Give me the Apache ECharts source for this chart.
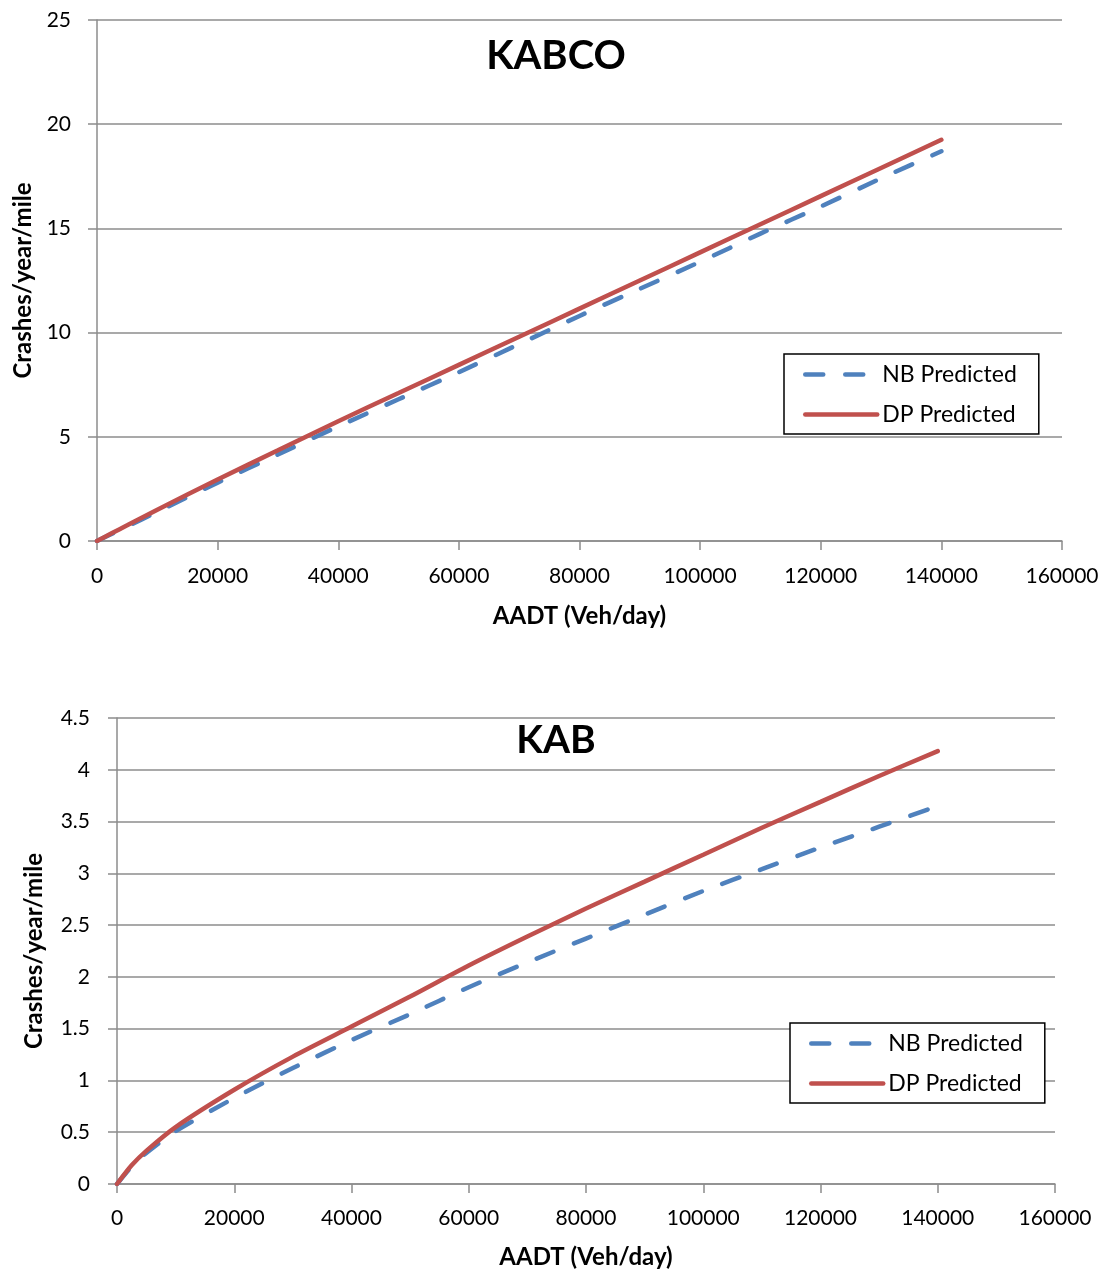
<!DOCTYPE html>
<html>
<head>
<meta charset="utf-8">
<title>Predicted crashes vs AADT</title>
<script src="https://cdn.jsdelivr.net/npm/echarts@6/dist/echarts.min.js"></script>
<style>
  html, body { margin: 0; padding: 0; background: #ffffff; }
  #chart { width: 1112px; height: 1272px; }
</style>
</head>
<body>
<div id="chart"></div>
<script>
// AADT sample points (veh/day) shared by both panels
const aadt = [0, 2500, 5000, 10000, 20000, 30000, 40000, 50000, 60000, 70000,
              80000, 90000, 100000, 110000, 120000, 130000, 140000];

// KABCO panel: crashes/year/mile
const kabcoNB = [0, 0.35, 0.7, 1.4, 2.8, 4.15, 5.5, 6.8, 8.1, 9.45,
                 10.8, 12.1, 13.4, 14.75, 16.05, 17.4, 18.7];
const kabcoDP = [0, 0.38, 0.75, 1.5, 2.95, 4.35, 5.75, 7.1, 8.45, 9.8,
                 11.15, 12.5, 13.85, 15.2, 16.55, 17.9, 19.25];

// KAB panel: crashes/year/mile
const kabNB = [0, 0.17, 0.3, 0.51, 0.83, 1.12, 1.39, 1.64, 1.9, 2.14,
               2.37, 2.6, 2.83, 3.04, 3.25, 3.45, 3.65];
const kabDP = [0, 0.18, 0.32, 0.55, 0.91, 1.23, 1.52, 1.81, 2.11, 2.39,
               2.66, 2.92, 3.18, 3.44, 3.69, 3.94, 4.18];

const panelTitles = ['KABCO', 'KAB'];
const seriesNames = ['NB Predicted', 'DP Predicted'];
const xAxisName = 'AADT (Veh/day)';
const yAxisName = 'Crashes/year/mile';

const FONT = 'Lato, "Open Sans", sans-serif';
const NB_COLOR = '#4F81BD';
const DP_COLOR = '#C0504D';
const GRID_GRAY = '#8C8C8C';
const LINE_W = 4.5;

const pairs = ys => aadt.map((x, i) => [x, ys[i]]);

function xAxisFor(gridIndex, labelMargin, nameGap) {
  return {
    type: 'value', gridIndex, min: 0, max: 160000, interval: 20000,
    name: xAxisName, nameLocation: 'middle', nameGap,
    nameTextStyle: { fontFamily: FONT, fontWeight: 'bold', fontSize: 24, color: '#000' },
    axisLine: { show: true, lineStyle: { color: GRID_GRAY, width: 1.5 } },
    axisTick: { show: true, length: 9, lineStyle: { color: GRID_GRAY, width: 1.5 } },
    axisLabel: { fontFamily: FONT, fontSize: 21, color: '#000', margin: labelMargin,
                 formatter: v => String(v) },
    splitLine: { show: false }
  };
}

function yAxisFor(gridIndex, max, interval, labelMargin, nameGap) {
  return {
    type: 'value', gridIndex, min: 0, max, interval,
    name: yAxisName, nameLocation: 'middle', nameGap,
    nameTextStyle: { fontFamily: FONT, fontWeight: 'bold', fontSize: 24, color: '#000' },
    axisLine: { show: true, lineStyle: { color: GRID_GRAY, width: 1.5 } },
    axisTick: { show: true, length: 9, lineStyle: { color: GRID_GRAY, width: 1.5 } },
    axisLabel: { fontFamily: FONT, fontSize: 21, color: '#000', margin: labelMargin },
    splitLine: { show: true, lineStyle: { color: GRID_GRAY, width: 1.5 } }
  };
}

function lineSeries(name, idx, data, color, dashed) {
  return {
    name, type: 'line', xAxisIndex: idx, yAxisIndex: idx,
    data, symbol: 'none', smooth: 0.25,
    lineStyle: dashed
      ? { color, width: LINE_W, type: [18, 22], cap: 'round' }
      : { color, width: LINE_W, cap: 'round' },
    itemStyle: { color },
    animation: false
  };
}

function legendAt(left, top) {
  return {
    data: seriesNames, orient: 'vertical', left, top,
    backgroundColor: '#fff', borderColor: '#000', borderWidth: 1.5,
    padding: [9, 22, 8, 19], itemGap: 17, itemWidth: 72, itemHeight: 14,
    itemStyle: { opacity: 0 },
    lineStyle: { width: LINE_W, cap: 'round' },
    textStyle: { fontFamily: FONT, fontSize: 23, color: '#000' },
    selectedMode: false
  };
}

const chart = echarts.init(document.getElementById('chart'), null, { renderer: 'canvas' });
chart.setOption({
  backgroundColor: '#ffffff',
  animation: false,
  title: [
    { text: panelTitles[0], left: 'center', top: 36, padding: 0,
      textStyle: { fontFamily: FONT, fontWeight: 'bold', fontSize: 40, color: '#000' } },
    { text: panelTitles[1], left: 'center', top: 721, padding: 0,
      textStyle: { fontFamily: FONT, fontWeight: 'bold', fontSize: 39, color: '#000' } }
  ],
  grid: [
    { left: 97, top: 20, width: 965, height: 521 },
    { left: 117, top: 718, width: 938, height: 466 }
  ],
  xAxis: [xAxisFor(0, 25, 63), xAxisFor(1, 24, 61)],
  yAxis: [yAxisFor(0, 25, 5, 26, 62), yAxisFor(1, 4.5, 0.5, 27, 71)],
  legend: [legendAt(784, 354), legendAt(790, 1023)],
  series: [
    lineSeries(seriesNames[0], 0, pairs(kabcoNB), NB_COLOR, true),
    lineSeries(seriesNames[1], 0, pairs(kabcoDP), DP_COLOR, false),
    lineSeries(seriesNames[0], 1, pairs(kabNB), NB_COLOR, true),
    lineSeries(seriesNames[1], 1, pairs(kabDP), DP_COLOR, false)
  ]
});
</script>
</body>
</html>
